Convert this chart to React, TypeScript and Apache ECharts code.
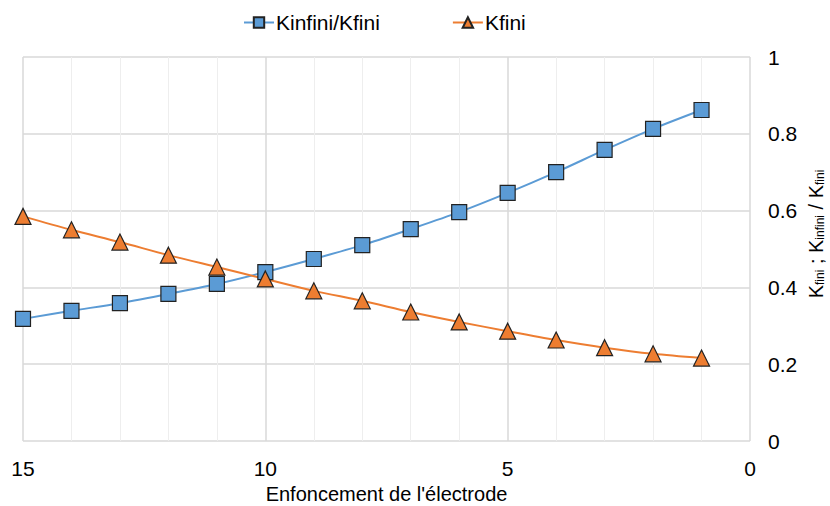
import React, { useEffect, useRef } from "react";
import * as echarts from "echarts";

const depth = [15, 14, 13, 12, 11, 10, 9, 8, 7, 6, 5, 4, 3, 2, 1];
const kRatio = [0.318, 0.339, 0.359, 0.383, 0.409, 0.44, 0.474, 0.51, 0.552, 0.596, 0.646, 0.7, 0.758, 0.813, 0.862];
const kFini = [0.585, 0.55, 0.518, 0.484, 0.453, 0.422, 0.391, 0.365, 0.336, 0.31, 0.286, 0.263, 0.243, 0.227, 0.216];
const seriesNames = ["Kinfini/Kfini", "Kfini"];

export default function App() {
  const ref = useRef<HTMLDivElement>(null);
  useEffect(() => {
    if (!ref.current) return;
    const chart = echarts.init(ref.current, undefined, { renderer: "svg" });
    const font = "Liberation Sans";
    chart.setOption({
      animation: false,
      textStyle: { fontFamily: font },
      legend: {
        top: 7,
        left: 238,
        itemGap: 72,
        itemWidth: 30,
        itemHeight: 13,
        textStyle: { fontSize: 21, color: "#000", fontFamily: font, padding: [0, 0, 0, -3] },
        data: seriesNames,
      },
      grid: { left: 23, right: 80, top: 57, bottom: 65, outerBoundsMode: "none", containLabel: false },
      xAxis: {
        type: "value",
        inverse: true,
        min: 0,
        max: 15,
        interval: 5,
        name: "Enfoncement de l'électrode",
        nameLocation: "middle",
        nameGap: 43,
        nameTextStyle: { fontSize: 20, color: "#000", fontFamily: font },
        axisLine: { show: false },
        axisTick: { show: false },
        axisLabel: { fontSize: 21, color: "#000", margin: 17, fontFamily: font },
        splitLine: { show: true, lineStyle: { color: "#d9d9d9", width: 1.5 } },
        minorTick: { show: false, splitNumber: 5 },
        minorSplitLine: { show: true, lineStyle: { color: "#eeeeee", width: 1 } },
      },
      yAxis: {
        type: "value",
        position: "right",
        min: 0,
        max: 1,
        interval: 0.2,
        name: "{n|K}{s|fini}{n| ; K}{s|infini}{n| / K}{s|fini}",
        nameLocation: "middle",
        nameRotate: 90,
        nameGap: 55,
        nameMoveOverlap: false,
        nameTextStyle: {
          padding: [0, 0, 0, 30],
          rich: {
            n: { fontSize: 20, color: "#000", fontFamily: font },
            s: { fontSize: 12, color: "#000", fontFamily: font, padding: [9, 0, 0, 0] },
          },
        },
        axisLine: { show: false },
        axisTick: { show: false },
        axisLabel: { fontSize: 21, color: "#000", margin: 18, fontFamily: font },
        splitLine: { show: true, lineStyle: { color: "#d9d9d9", width: 1.5 } },
      },
      series: [
        {
          name: seriesNames[0],
          type: "line",
          smooth: 0.3,
          data: depth.map((d, i) => [d, kRatio[i]]),
          symbol: "rect",
          symbolSize: 15,
          lineStyle: { color: "#5b9bd5", width: 2 },
          itemStyle: { color: "#5b9bd5", borderColor: "#222", borderWidth: 1.2 },
        },
        {
          name: seriesNames[1],
          type: "line",
          smooth: 0.3,
          data: depth.map((d, i) => [d, kFini[i]]),
          symbol: "triangle",
          symbolSize: 16,
          lineStyle: { color: "#ed7d31", width: 2 },
          itemStyle: { color: "#ed7d31", borderColor: "#222", borderWidth: 1.2 },
        },
      ],
    });
    return () => chart.dispose();
  }, []);
  return <div ref={ref} style={{ width: 830, height: 506, position: "absolute", left: 0, top: 0 }} />;
}
